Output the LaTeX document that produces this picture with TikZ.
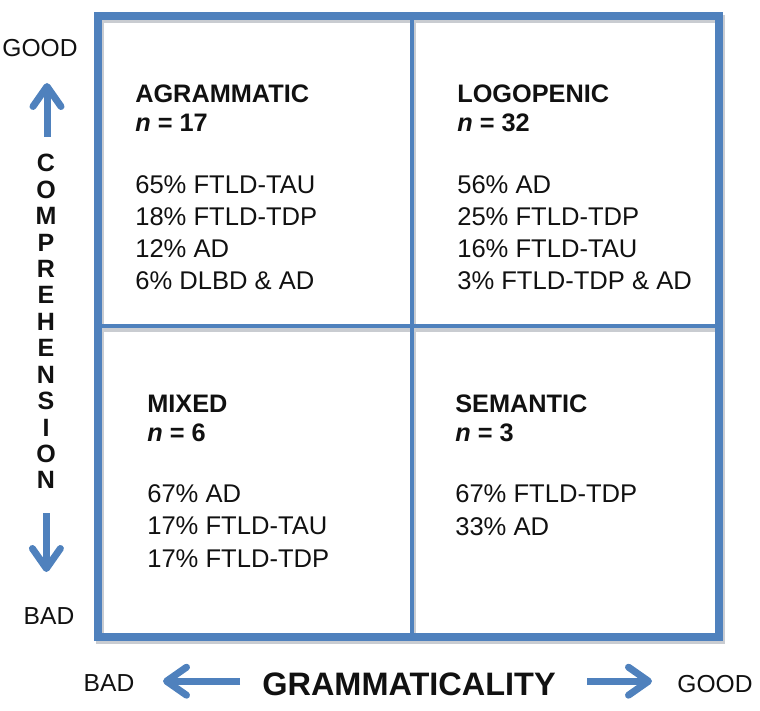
\documentclass[tikz,border=0pt]{standalone}
\usepackage{fontspec}
\setmainfont{Liberation Sans}
\usetikzlibrary{arrows.meta}
\definecolor{azul}{HTML}{4F81BD}
\definecolor{texto}{HTML}{111111}
\definecolor{sombra}{HTML}{C9CCD1}
\newcommand\nval[1]{\textit{n} = #1}

\begin{document}
\begin{tikzpicture}[x=1cm,y=1cm,
    moldura/.style={draw=#1, line width=2mm},
    divisa/.style={draw=#1, line width=1.2mm},
    titulo/.style={anchor=base west, align=left, inner sep=0pt, text=texto,
      font=\bfseries\fontsize{18}{21.3}\selectfont},
    lista/.style={anchor=base west, align=left, inner sep=0pt, text=texto,
      font=\fontsize{18.2}{22.8}\selectfont},
    eixo/.style={inner sep=0pt, text=texto, font=\fontsize{17.5}{20}\selectfont},
    seta/.style={-{Straight Barb[length=5mm,width=7mm,round]}, line width=1.75mm, azul}]
  \useasboundingbox (0,0) rectangle (19,17.75);
  % sombra da grade
  \begin{scope}[shift={(0.05,-0.08)}]
    \draw[moldura=sombra] (2.45,1.825) rectangle (17.975,17.35);
    \draw[divisa=sombra] (10.3,1.825) -- (10.3,17.35);
    \draw[divisa=sombra] (2.45,9.6) -- (17.975,9.6);
  \end{scope}
  % grade
  \draw[moldura=azul] (2.45,1.825) rectangle (17.975,17.35);
  \draw[divisa=azul] (10.3,1.825) -- (10.3,17.35);
  \draw[divisa=azul] (2.45,9.6) -- (17.975,9.6);
  % quadrantes (base = ultima linha)
  \node[titulo] (agr) at (3.375,14.45) {AGRAMMATIC\\\nval{17}};
  \node[lista] (agrl) at (3.375,10.5) {65\% FTLD-TAU\\18\% FTLD-TDP\\12\% AD\\6\% DLBD \& AD};
  \node[titulo] (logo) at (11.425,14.45) {LOGOPENIC\\\nval{32}};
  \node[lista] (logol) at (11.425,10.5) {56\% AD\\25\% FTLD-TDP\\16\% FTLD-TAU\\3\% FTLD-TDP \& AD};
  \node[titulo] (mix) at (3.675,6.7) {MIXED\\\nval{6}};
  \node[lista] (mixl) at (3.675,3.575) {67\% AD\\17\% FTLD-TAU\\17\% FTLD-TDP};
  \node[titulo] (sem) at (11.375,6.7) {SEMANTIC\\\nval{3}};
  \node[lista] (seml) at (11.375,4.375) {67\% FTLD-TDP\\33\% AD};
  % eixos
  \node[eixo] (cbom) at (1.0,16.55) {GOOD};
  \node[eixo] (cmau) at (1.225,2.35) {BAD};
  \node[eixo, align=center, font=\bfseries\fontsize{17.8}{18.8}\selectfont] (comp) at (1.15,9.71)
    {C\\O\\M\\P\\R\\E\\H\\E\\N\\S\\I\\O\\N};
  \node[eixo] (gmau) at (2.725,0.675) {BAD};
  \node[eixo, font=\bfseries\fontsize{23.1}{26}\selectfont] (gram) at (10.225,0.65) {GRAMMATICALITY};
  \node[eixo] (gbom) at (17.875,0.65) {GOOD};
  \coordinate (c1) at (1.175,14.325);
  \coordinate (c2) at (1.175,15.675);
  \coordinate (c3) at (1.16,4.925);
  \coordinate (c4) at (1.16,3.45);
  \coordinate (g1) at (6.0,0.72);
  \coordinate (g2) at (4.075,0.72);
  \coordinate (g3) at (14.675,0.72);
  \coordinate (g4) at (16.3,0.72);
  \draw[seta] (c1) -- (c2);
  \draw[seta] (c3) -- (c4);
  \draw[seta] (g1) -- (g2);
  \draw[seta] (g3) -- (g4);
\end{tikzpicture}
\end{document}
